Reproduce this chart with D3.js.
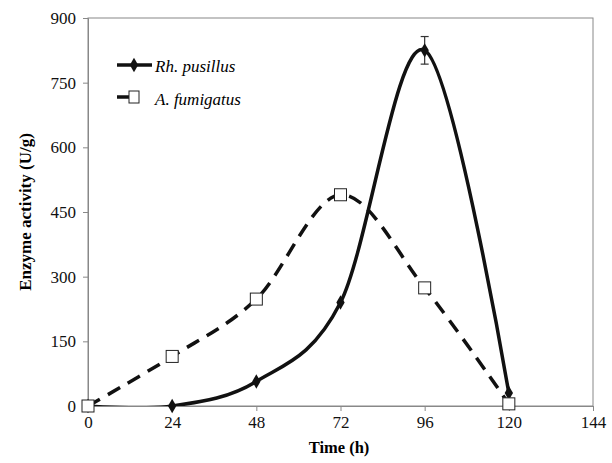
<!DOCTYPE html>
<html>
<head>
<meta charset="utf-8">
<script src="https://cdn.jsdelivr.net/npm/d3@7"></script>
<style>
  body { margin: 0; background: #fff; }
</style>
</head>
<body>
<svg width="612" height="463"></svg>
<script>
// data
const hours = [0, 24, 48, 72, 96, 120];
const rhPusillus = [0, 0, 57, 240, 825, 30];
const rhError = [0, 0, 0, 0, 32, 0];
const aFumigatus = [0, 115, 248, 490, 274, 5];
const xTicks = [0, 24, 48, 72, 96, 120, 144];
const yTicks = [0, 150, 300, 450, 600, 750, 900];

const serif = 'Liberation Serif';
let svg = d3.select('svg').attr('font-family', serif);
let x = d3.scaleLinear().domain([0, 144]).range([88, 593]);
let y = d3.scaleLinear().domain([0, 900]).range([406, 18]);

svg.append('clipPath').attr('id', 'plot')
  .append('rect').attr('x', 88).attr('y', 0).attr('width', 505).attr('height', 406);

// frame
svg.append('rect')
  .attr('x', 88).attr('y', 18)
  .attr('width', 505).attr('height', 388)
  .attr('fill', 'none').attr('stroke', '#888').attr('stroke-width', 1);

let xAxis = svg.append('g').attr('transform', 'translate(0,406)')
  .call(d3.axisBottom(x).tickValues(xTicks).tickSize(5).tickPadding(5));
let yAxis = svg.append('g').attr('transform', 'translate(88,0)')
  .call(d3.axisLeft(y).tickValues(yTicks).tickSize(5).tickPadding(7));
[xAxis, yAxis].forEach(function (a) {
  a.attr('font-family', serif);
  a.select('.domain').attr('stroke', '#888');
  a.selectAll('line').attr('stroke', '#888');
  a.selectAll('text').attr('font-family', serif).attr('font-size', 17).attr('fill', '#111');
});

// axis titles
svg.append('text').attr('x', 339).attr('y', 453).attr('font-family', serif)
  .attr('text-anchor', 'middle').attr('font-size', 16.5).attr('font-weight', 'bold')
  .text('Time (h)');
svg.append('text').attr('transform', 'translate(31,212) rotate(-90)').attr('font-family', serif)
  .attr('text-anchor', 'middle').attr('font-size', 17).attr('font-weight', 'bold')
  .text('Enzyme activity (U/g)');

let line = d3.line().curve(d3.curveCardinal.tension(0));
let fumPts = hours.map((h, i) => [x(h), y(aFumigatus[i])]);
let rhPts = hours.map((h, i) => [x(h), y(rhPusillus[i])]);

let lines = svg.append('g').attr('clip-path', 'url(#plot)');
// A. fumigatus dashed
lines.append('path').attr('d', line(fumPts))
  .attr('fill', 'none').attr('stroke', '#111').attr('stroke-width', 3.5)
  .attr('stroke-dasharray', '14,9');

// Rh. pusillus solid
lines.append('path').attr('d', line(rhPts))
  .attr('fill', 'none').attr('stroke', '#111').attr('stroke-width', 3.5);

// error bars
hours.forEach(function (h, i) {
  if (!rhError[i]) return;
  let cx = x(h);
  let g = svg.append('g').attr('stroke', '#333').attr('stroke-width', 1.2);
  g.append('line').attr('x1', cx).attr('x2', cx)
    .attr('y1', y(rhPusillus[i] + rhError[i])).attr('y2', y(rhPusillus[i] - rhError[i]));
  [1, -1].forEach(function (s) {
    g.append('line').attr('x1', cx - 4).attr('x2', cx + 4)
      .attr('y1', y(rhPusillus[i] + s * rhError[i])).attr('y2', y(rhPusillus[i] + s * rhError[i]));
  });
});

let diamond = d3.symbol().type(d3.symbolDiamond).size(60);
svg.selectAll('.rh').data(rhPts).enter().append('path')
  .attr('transform', d => 'translate(' + d[0] + ',' + d[1] + ')')
  .attr('d', diamond).attr('fill', '#111');

svg.selectAll('.fum').data(fumPts).enter().append('rect')
  .attr('x', d => d[0] - 6).attr('y', d => d[1] - 6)
  .attr('width', 12).attr('height', 12)
  .attr('fill', '#fff').attr('stroke', '#222').attr('stroke-width', 1);

// legend
svg.append('line').attr('x1', 117).attr('x2', 152).attr('y1', 65).attr('y2', 65)
  .attr('stroke', '#111').attr('stroke-width', 3.5);
svg.append('path').attr('transform', 'translate(134,65)').attr('d', diamond).attr('fill', '#111');
svg.append('text').attr('x', 155).attr('y', 72).attr('font-size', 17).attr('font-family', serif)
  .attr('font-style', 'italic').text('Rh. pusillus');

svg.append('line').attr('x1', 117).attr('x2', 131).attr('y1', 97).attr('y2', 97)
  .attr('stroke', '#111').attr('stroke-width', 3.5);
svg.append('rect').attr('x', 129).attr('y', 91).attr('width', 10).attr('height', 12)
  .attr('fill', '#fff').attr('stroke', '#222').attr('stroke-width', 1);
svg.append('text').attr('x', 155).attr('y', 105).attr('font-size', 17).attr('font-family', serif)
  .attr('font-style', 'italic').text('A. fumigatus');
</script>
</body>
</html>
